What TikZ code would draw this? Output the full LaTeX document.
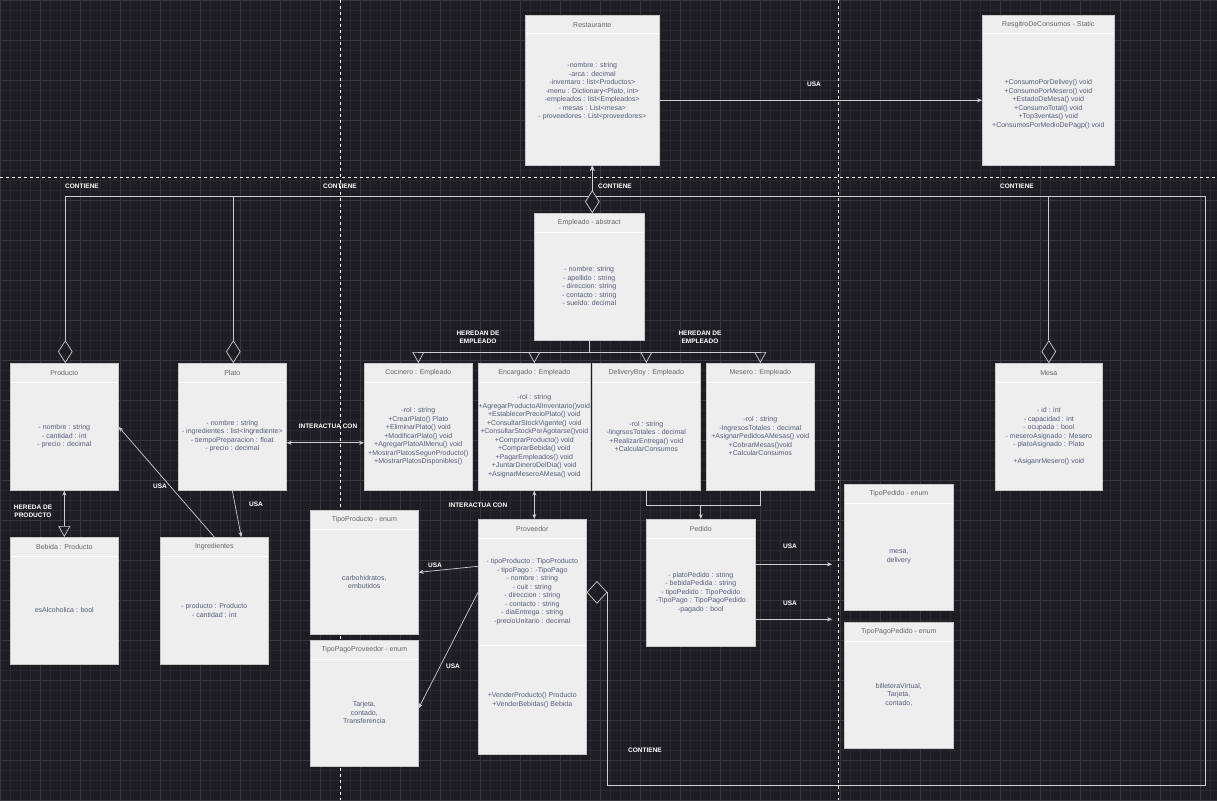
\documentclass[tikz,border=0pt]{standalone}
\usepackage{fontspec}
\setmainfont{Liberation Sans}
\usetikzlibrary{calc,arrows.meta,shapes.geometric}
\definecolor{canvasDark}{RGB}{30,29,36}
\definecolor{gridMinor}{RGB}{42,41,49}
\definecolor{gridMajor}{RGB}{56,55,63}
\definecolor{boxFill}{RGB}{238,238,238}
\definecolor{boxLine}{RGB}{200,200,200}
\definecolor{titleGray}{RGB}{100,100,108}
\definecolor{memberBlue}{RGB}{85,92,122}
\definecolor{wireGray}{RGB}{205,205,210}
\pgfdeclarelayer{gridlayer}
\pgfdeclarelayer{wirelayer}
\pgfsetlayers{gridlayer,wirelayer,main}
\tikzset{
  classbox/.style={draw=boxLine,fill=boxFill,line width=0.6pt,inner sep=0pt},
  headsep/.style={white,line width=1pt},
  classtitle/.style={font=\fontsize{7}{8.5}\selectfont,text=titleGray},
  classbody/.style={font=\fontsize{7}{8.5}\selectfont,text=memberBlue,align=center,inner sep=0pt},
  wire/.style={draw=wireGray,line width=0.7pt},
  uses/.style={wire,-{Stealth[length=5pt,width=4pt]}},
  both/.style={wire,{Stealth[length=5pt,width=4pt]}-{Stealth[length=5pt,width=4pt]}},
  heir/.style={wire,-{Triangle[open,length=11pt,width=12pt]}},
  hasmark/.style={diamond,draw=wireGray,fill=canvasDark,line width=0.7pt,minimum width=14pt,minimum height=22pt,inner sep=0pt},
  tag/.style={font=\bfseries\fontsize{6.5}{8}\selectfont,text=white,align=center,inner sep=0pt},
  guide/.style={white,line width=0.6pt,dash pattern=on 3pt off 3pt}
}
% class box: [body options]{name}{x}{y}{w}{h}{title}{members}
\newcommand{\ClassBox}[8][]{%
  \node[classbox,minimum width=#5pt,minimum height=#6pt,anchor=north west] (#2) at (#3,-#4) {};
  \draw[headsep] ($(#2.north west)+(0.5,-19)$) -- ($(#2.north east)+(-0.5,-19)$);
  \node[classtitle] (#2-title) at ($(#2.north)+(0,-10)$) {#7};
  \node[classbody,#1] (#2-body) at ($(#2.center)+(0,-9.5)$) {#8};
}

\begin{document}
\begin{tikzpicture}[x=1pt,y=1pt]
\useasboundingbox (0,0) rectangle (1217,-800);
\begin{pgfonlayer}{gridlayer}
  \fill[canvasDark] (0,0) rectangle (1217,-800);
  \foreach \gx in {0,10,...,1210} \draw[gridMinor,line width=0.5pt] (\gx,0) -- (\gx,-800);
  \foreach \gy in {0,10,...,800} \draw[gridMinor,line width=0.5pt] (0,-\gy) -- (1217,-\gy);
  \foreach \gx in {0,40,...,1200} \draw[gridMajor,line width=0.6pt] (\gx,0) -- (\gx,-800);
  \foreach \gy in {0,40,...,800} \draw[gridMajor,line width=0.6pt] (0,-\gy) -- (1217,-\gy);
  \draw[guide] (340,0) -- (340,-800);
  \draw[guide] (838,0) -- (838,-800);
  \draw[guide] (0,-177) -- (1217,-177);
\end{pgfonlayer}

% classes
\ClassBox[yshift=8.5pt]{restaurante}{525}{15}{134}{150}{Restaurante}{-nombre : string\\-arca : decimal\\-inventaro : list<Productos>\\-menu : Dictionary<Plato, int>\\-empleados : list<Empleados>\\- mesas : List<mesa>\\- proveedores : List<proveedores>}
\ClassBox[yshift=-4.5pt]{registro}{982}{15}{132}{150}{ResgitroDeConsumos - Static}{+ConsumoPorDelivey() void\\+ConsumoPorMesero() void\\+EstadoDeMesa() void\\+ConsumoTotal() void\\+Top3ventas() void\\+ConsumosPorMedioDePagp() void}
\ClassBox{empleado}{534}{213}{110}{127}{Empleado - abstract}{- nombre: string\\- apellido : string\\- direccion: string\\- contacto : string\\- sueldo: decimal}
\ClassBox{producto}{10}{363}{108}{127}{Producto}{- nombre : string\\- cantidad : int\\- precio : decimal}
\ClassBox{plato}{178}{363}{108}{127}{Plato}{- nombre : string\\- ingredientes : list<Ingrediente>\\- tiempoPreparacion : float\\- precio : decimal}
\ClassBox{cocinero}{364}{363}{108}{127}{Cocinero : Empleado}{-rol : string\\+CrearPlato() Plato\\+EliminarPlato() void\\+ModificarPlato() void\\+AgregarPlatoAlMenu() void\\+MostrarPlatosSegunProducto()\\+MostrarPlatosDisponibles()}
\ClassBox{encargado}{478}{363}{112}{127}{Encargado : Empleado}{-rol : string\\+AgregarProductoAlInventario()void\\+EstablecerPrecioPlato() void\\+ConsultarStockVigente() void\\+ConsultarStockPorAgotarse()void\\+ComprarProducto() void\\+ComprarBebida() void\\+PagarEmpleados() void\\+JuntarDineroDelDia() void\\+AsignarMeseroAMesa() void}
\ClassBox{deliveryboy}{592}{363}{108}{127}{DeliveryBoy : Empleado}{-rol : string\\-lingrsosTotales : decimal\\+RealizarEntrega() void\\+CalcularConsumos}
\ClassBox{mesero}{706}{363}{108}{127}{Mesero : Empleado}{-rol : string\\-IngresosTotales : decimal\\+AsignarPedidosAMesas() void\\+CobrarMesas()void\\+CalcularConsumos}
\ClassBox{mesa}{995}{363}{107}{127}{Mesa}{- id : int\\- capacidad : int\\- ocupada : bool\\- meseroAsignado : Mesero\\- platoAsignado : Plato\\[8.5pt]+AsiganrMesero() void}
\ClassBox{bebida}{10}{537}{108}{127}{Bebida : Producto}{esAlcoholica : bool}
\ClassBox{ingredientes}{160}{537}{108}{127}{Ingredientes}{- producto : Producto\\- cantidad : int}
\ClassBox{tipoproducto}{310}{510}{108}{124}{TipoProducto - enum}{carbohidratos,\\embutidos}
\ClassBox{tipopagoproveedor}{310}{640}{108}{126}{TipoPagoProveedor - enum}{Tarjeta,\\contado,\\Transferencia}
\ClassBox[yshift=54.5pt]{proveedor}{478}{519}{108}{235}{Proveedor}{- tipoProducto : TipoProducto\\- tipoPago : -TipoPago\\- nombre : string\\- cuit : string\\- direccion : string\\- contacto : string\\- diaEntrega : string\\-precioUnitario : decimal}
\draw[headsep] ($(proveedor.west)+(0.5,-8.5)$) -- ($(proveedor.east)+(-0.5,-8.5)$);
\node[classbody] (proveedor-ops) at ($(proveedor.center)+(0,-63.5)$) {+VenderProducto() Producto\\+VenderBebidas() Bebida};
\ClassBox{pedido}{646}{519}{109}{127}{Pedido}{- platoPedido : string\\- bebidaPedida : string\\- tipoPedido : TipoPedido\\-TipoPago : TipoPagoPedido\\-pagado : bool}
\ClassBox{tipopedido}{844}{484}{109}{126}{TipoPedido - enum}{mesa,\\delivery}
\ClassBox{tipopagopedido}{844}{622}{109}{126}{TipoPagoPedido - enum}{billeteraVirtual,\\Tarjeta,\\contado,}

% composition marks
\node[hasmark,anchor=south] (producto-has) at ([xshift=1pt]producto.north) {};
\node[hasmark,anchor=south] (plato-has) at ([xshift=1pt]plato.north) {};
\node[hasmark,anchor=south] (mesa-has) at (mesa.north) {};
\node[hasmark,anchor=south] (empleado-has) at ([xshift=3pt]empleado.north) {};
\node[hasmark,minimum width=20pt,anchor=west] (proveedor-has) at ([yshift=44.5pt]proveedor.east) {};
\coordinate (hub) at ([yshift=-31pt]restaurante.south);
\coordinate (loopcorner) at (1205,-785);

\begin{pgfonlayer}{wirelayer}
  \draw[uses] ([yshift=-10pt]restaurante.east) -- ([yshift=-10pt]registro.west);
  \draw[uses] (empleado-has.north) -- (restaurante.south);
  \draw[uses] (producto-has.north) |- (hub) -- (restaurante.south);
  \draw[uses] (plato-has.north) |- (hub) -- (restaurante.south);
  \draw[uses] (mesa-has.north) |- (hub) -- (restaurante.south);
  \draw[uses] (proveedor-has.east) |- (loopcorner) |- (hub) -- (restaurante.south);
  % herencia
  \foreach \kid in {cocinero,encargado,deliveryboy,mesero}
    \draw[heir] (empleado.south) |- ([yshift=11pt]\kid.north) -- (\kid.north);
  \draw[wire,{Triangle[open,length=11pt,width=12pt]}-{Stealth[length=5pt,width=4pt]}] (bebida.north) -- (producto.south);
  % usos
  \draw[uses] (ingredientes.north) -- (producto.east);
  \draw[uses] (plato.south) -- ([xshift=27pt]ingredientes.north);
  \draw[both] ([yshift=-16pt]plato.east) -- ([yshift=-16pt]cocinero.west);
  \draw[both] (encargado.south) -- (encargado.south |- proveedor.north);
  \draw[uses] ([yshift=70.5pt]proveedor.west) -- (tipoproducto.east);
  \draw[uses] ([yshift=44.5pt]proveedor.west) -- ([yshift=-5pt]tipopagoproveedor.east);
  \draw[wire] (deliveryboy.south) -- ++(0,-15) -| (mesero.south);
  \draw[uses] ([yshift=14pt]pedido.north) -- (pedido.north);
  \draw[uses,shorten >=12pt] ([yshift=18.5pt]pedido.east) -- ([yshift=18.5pt]pedido.east -| tipopedido.west);
  \draw[uses,shorten >=12pt] ([yshift=-36.5pt]pedido.east) -- ([yshift=-36.5pt]pedido.east -| tipopagopedido.west);
\end{pgfonlayer}

% etiquetas
\node[tag] (usa-registro) at (814,-84) {USA};
\node[tag] (contiene-producto) at (82,-186) {CONTIENE};
\node[tag] (contiene-plato) at (340,-186) {CONTIENE};
\node[tag] (contiene-empleado) at (615,-186) {CONTIENE};
\node[tag] (contiene-mesa) at (1017,-186) {CONTIENE};
\node[tag] (heredan-left) at (478,-337) {HEREDAN DE\\EMPLEADO};
\node[tag] (heredan-right) at (700,-337) {HEREDAN DE\\EMPLEADO};
\node[tag] (interactua-plato) at (328,-426) {INTERACTUA CON};
\node[tag] (usa-producto) at (160,-486) {USA};
\node[tag] (hereda-producto) at (33,-511) {HEREDA DE\\PRODUCTO};
\node[tag] (usa-ingredientes) at (256,-504) {USA};
\node[tag] (interactua-proveedor) at (478,-505) {INTERACTUA CON};
\node[tag] (usa-tipoproducto) at (435,-565) {USA};
\node[tag] (usa-tipopago) at (453,-666) {USA};
\node[tag] (usa-tipopedido) at (790,-546) {USA};
\node[tag] (usa-tipopagopedido) at (790,-603) {USA};
\node[tag] (contiene-proveedor) at (645,-750) {CONTIENE};
\end{tikzpicture}
\end{document}
